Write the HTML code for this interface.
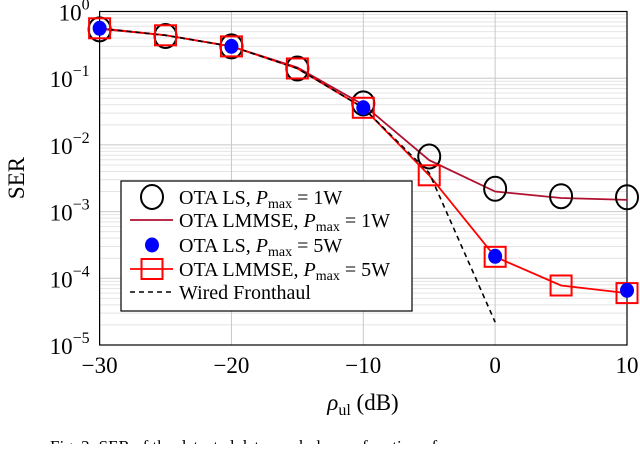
<!DOCTYPE html>
<html><head><meta charset="utf-8"><style>
body{margin:0;background:#fff;width:640px;height:444px;overflow:hidden}
svg{font-family:"Liberation Serif",serif}
</style></head><body>
<svg id="c" width="640" height="444"></svg>
<script>
const xs=[-30,-25,-20,-15,-10,-5,0,5,10];
const lsP1=[0.54,0.43,0.30,0.14,0.042,0.0067,0.0022,0.0017,0.00164];
const lmmseP1=[0.55,0.44,0.30,0.145,0.040,0.0059,0.0020,0.0016,0.0015];
const lsP5X=[-30,-20,-10,0,10];
const lsP5=[0.56,0.30,0.036,0.000214,0.000066];
const lmmseP5=[0.56,0.44,0.30,0.14,0.036,0.0035,0.00021,0.000078,0.00006];
const wiredX=[-30,-25,-20,-15,-10,-5,0];
const wired=[0.56,0.44,0.30,0.14,0.036,0.0038,0.000022];
const xTicks=[-30,-20,-10,0,10];
const yExps=[0,-1,-2,-3,-4,-5];
const L=99.6,R=627,T=11.5,B=345;
const X=v=>L+(v+30)/40*(R-L);
const Y=v=>T+(-Math.log10(v))/5*(B-T);
const svg=document.getElementById('c');const NS='http://www.w3.org/2000/svg';
function el(t,a,p){const e=document.createElementNS(NS,t);for(const k in a)e.setAttribute(k,a[k]);(p||svg).appendChild(e);return e;}
for(let d=0;d<5;d++)for(let m=2;m<=9;m++){const g=el('line',{x1:L,x2:R,y1:Y(m*Math.pow(10,-d-1)),y2:Y(m*Math.pow(10,-d-1)),stroke:'#e4e4e4','stroke-width':1});
}
yExps.forEach(e=>{const g=el('line',{x1:L,x2:R,y1:Y(Math.pow(10,e)),y2:Y(Math.pow(10,e)),stroke:'#c8c8c8'});

const t=el('text',{x:L-10,y:Y(Math.pow(10,e))+9,'text-anchor':'end','font-size':23});

t.innerHTML='10<tspan dy="-11" font-size="16">'+(e===0?'0':'\u2212'+(-e))+'</tspan>';});
xTicks.forEach(v=>{const g=el('line',{x1:X(v),x2:X(v),y1:T,y2:B,stroke:'#c8c8c8'});

const t=el('text',{x:X(v),y:B+28,'text-anchor':'middle','font-size':23});

t.textContent=v<0?'\u2212'+(-v):String(v);});
const fr=el('rect',{x:L,y:T,width:R-L,height:B-T,fill:'none',stroke:'#000','stroke-width':1.2});

function path(xa,ya,attrs,name){const d=xa.map((x,i)=>(i?'L':'M')+X(x)+','+Y(ya[i])).join('');const p=el('path',Object.assign({d,fill:'none'},attrs));
}
path(xs,lmmseP1,{stroke:'#b01030','stroke-width':1.8},'lmmse-1w-line');
path(xs,lmmseP5,{stroke:'#ff0000','stroke-width':1.8},'lmmse-5w-line');
path(wiredX,wired,{stroke:'#000','stroke-width':1.6,'stroke-dasharray':'5,4'},'wired-fronthaul-line');
xs.forEach((x,i)=>{const c=el('ellipse',{cx:X(x),cy:Y(lsP1[i]),rx:11,ry:12,fill:'none',stroke:'#000','stroke-width':2});
});
xs.forEach((x,i)=>{const r=el('rect',{x:X(x)-10.5,y:Y(lmmseP5[i])-10,width:21,height:20,fill:'none',stroke:'#ff0000','stroke-width':2});
});
lsP5X.forEach((x,i)=>{const c=el('ellipse',{cx:X(x),cy:Y(lsP5[i]),rx:7,ry:7.5,fill:'#0000ff'});
});
const lg=el('g',{});
el('rect',{x:121,y:181,width:291,height:130,fill:'#fff',stroke:'#000','stroke-width':1.2},lg);
const rows=[197,220,245,269,292];
el('ellipse',{cx:152,cy:rows[0],rx:11,ry:12,fill:'none',stroke:'#000','stroke-width':2},lg);
el('line',{x1:130,x2:173,y1:rows[1],y2:rows[1],stroke:'#b01030','stroke-width':1.8},lg);
el('ellipse',{cx:152,cy:rows[2],rx:7,ry:7.5,fill:'#0000ff'},lg);
el('line',{x1:130,x2:173,y1:rows[3],y2:rows[3],stroke:'#ff0000','stroke-width':1.8},lg);
el('rect',{x:141.5,y:rows[3]-10,width:21,height:20,fill:'none',stroke:'#ff0000','stroke-width':2},lg);
el('line',{x1:130,x2:173,y1:rows[4],y2:rows[4],stroke:'#000','stroke-width':1.6,'stroke-dasharray':'5,4'},lg);
const labs=[['OTA LS, ','1W'],['OTA LMMSE, ','1W'],['OTA LS, ','5W'],['OTA LMMSE, ','5W']];
labs.forEach((l,i)=>{const t=el('text',{x:179,y:rows[i]+7,'font-size':20},lg);

t.innerHTML=l[0]+'<tspan font-style="italic">P</tspan><tspan font-size="14" dy="4">max</tspan><tspan dy="-4"> = '+l[1]+'</tspan>';});
const wt=el('text',{x:179,y:rows[4]+7,'font-size':20},lg);wt.textContent='Wired Fronthaul';

</script>
<svg width="640" height="444" style="position:absolute;left:0;top:0" font-family="Liberation Serif, serif">
<text x="0" y="0" font-size="23" text-anchor="middle" transform="translate(24,178) rotate(-90)">SER</text>
<text x="363" y="410" font-size="23" text-anchor="middle"><tspan font-style="italic">ρ</tspan><tspan font-size="16" dy="5">ul</tspan><tspan dy="-5"> (dB)</tspan></text>
<text x="50" y="452" font-size="17">Fig. 2: SER of the detected data symbols as a function of</text>
</svg>
</body></html>
